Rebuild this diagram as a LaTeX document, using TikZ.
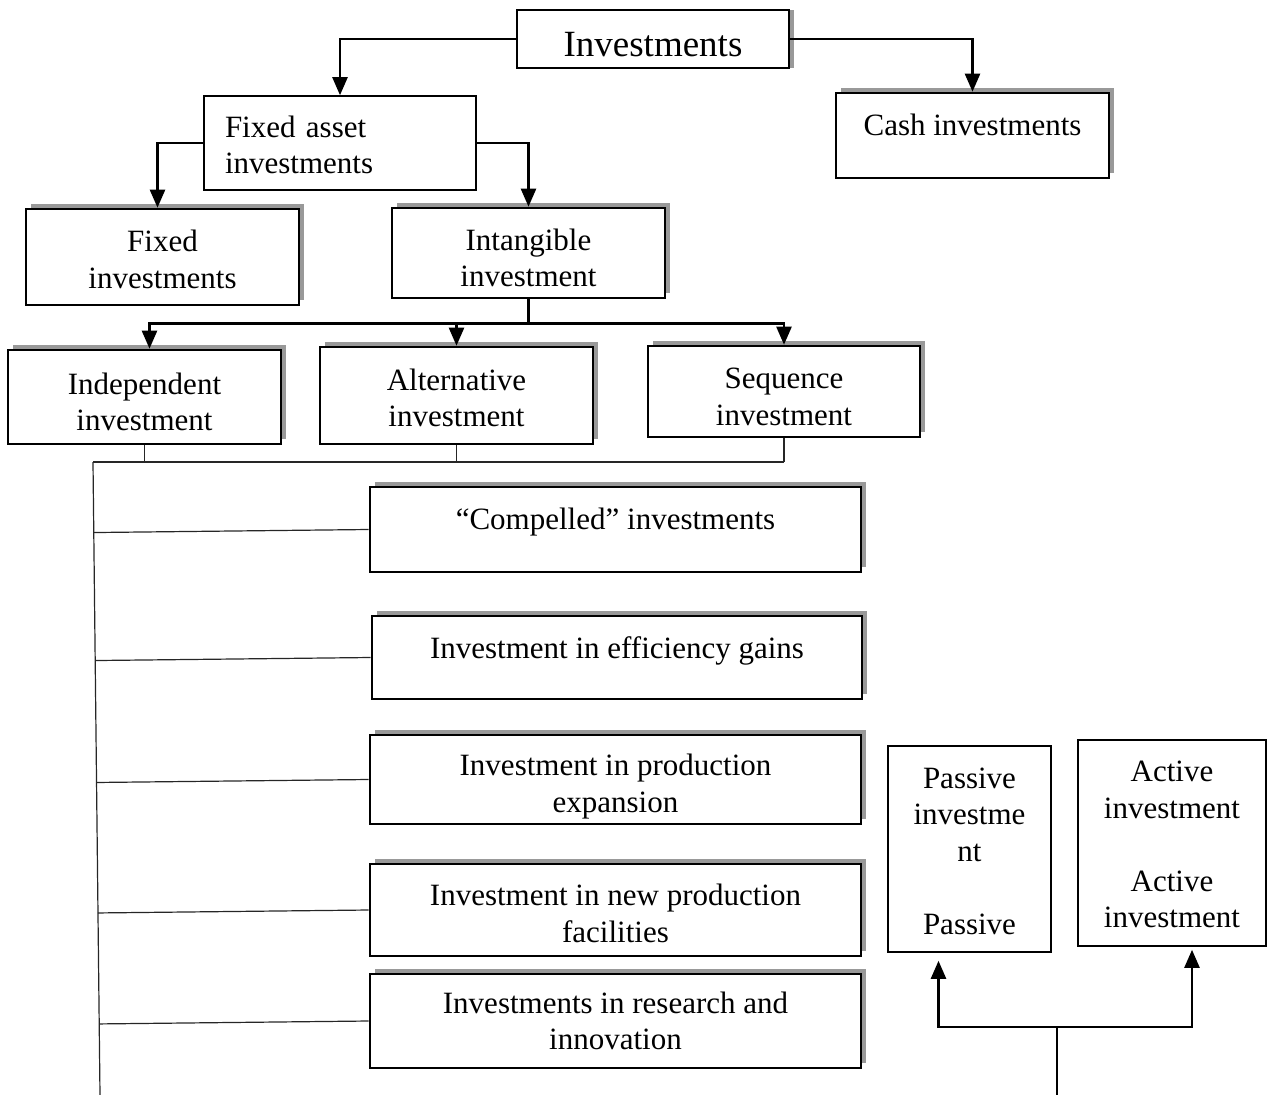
\documentclass[tikz,border=0pt]{standalone}
\usepackage{fontspec}
\setmainfont{Liberation Serif}
\usepackage{tikz}
\usetikzlibrary{arrows.meta,calc,shadows}

\newcommand{\tallline}[1]{\rule{0pt}{#1}}

\tikzset{
  box/.style={draw, line width=2.6pt, fill=white, align=center,
    drop shadow={shadow xshift=5pt, shadow yshift=5pt, fill=gray!80, opacity=1}},
  topbox/.style={draw, line width=2.6pt, fill=white, align=center,
    drop shadow={shadow xshift=5pt, shadow yshift=0pt, fill=gray!80, opacity=1}},
  plainbox/.style={draw, line width=1.6pt, fill=white, align=center},
  arr/.style={line width=2.4pt, -{Triangle[length=18pt,width=15pt]}},
  thinline/.style={line width=1.2pt, black!85}
}

\begin{document}
\begin{tikzpicture}[x=1pt,y=-1pt, font=\fontsize{31}{36.5}\selectfont]
  \useasboundingbox (0,0) rectangle (1272,1095);

  \node[topbox, minimum width=272pt, minimum height=58pt, font=\fontsize{37}{42}\selectfont, text height=36pt] (inv) at (653,39) {Investments};
  \node[plainbox, text width=230pt, inner xsep=21pt, minimum height=94pt, align=left] (fa) at (340,143) {\tallline{25pt}Fixed asset\\investments};
  \node[box, minimum width=273pt, minimum height=85pt, text depth=21pt] (cash) at (972.5,135.5) {Cash investments};

  \node[box, minimum width=273pt, minimum height=96pt] (fix) at (162.5,257) {\tallline{26pt}Fixed\\investments};
  \node[box, minimum width=273pt, minimum height=90pt] (intg) at (528.5,253) {\tallline{31pt}Intangible\\investment};

  \node[box, minimum width=273pt, minimum height=94pt] (indep) at (144.5,397) {\tallline{31pt}Independent\\investment};
  \node[box, minimum width=273pt, minimum height=97pt] (alt) at (456.5,395.5) {\tallline{26pt}Alternative\\investment};
  \node[box, minimum width=272pt, minimum height=91pt] (seq) at (784,391.5) {\tallline{31pt}Sequence\\investment};

  \node[box, minimum width=491pt, minimum height=85pt, text depth=21pt] (comp) at (615.5,529.5) {“Compelled” investments};
  \node[box, minimum width=490pt, minimum height=83pt, text depth=19pt] (eff) at (617,657.5) {Investment in efficiency gains};
  \node[box, minimum width=491pt, minimum height=89pt] (expn) at (615.5,779.5) {\tallline{36pt}Investment in production\\expansion};
  \node[box, minimum width=491pt, minimum height=92pt] (newf) at (615.5,910) {\tallline{28pt}Investment in new production\\facilities};
  \node[box, minimum width=491pt, minimum height=94pt] (rsch) at (615.5,1021) {Investments in research and\\innovation};

  \node[plainbox, minimum width=163pt, minimum height=206pt] (pas) at (969.5,849) {\tallline{25pt}Passive\\investme\\nt\\[36.5pt]Passive};
  \node[plainbox, minimum width=188pt, minimum height=206pt] (act) at (1172,843) {\tallline{24pt}Active\\investment\\[36.5pt]Active\\investment};

  \draw[arr] (inv.west) -| (fa.north);
  \draw[arr] (inv.east) -| (cash.north);
  \draw[arr] (fa.west) -| ([xshift=-5pt]fix.north);
  \draw[arr] (fa.east) -| (intg.north);

  \draw[line width=2.4pt] (intg.south) -- ++(0,24) coordinate (split);
  \draw[arr] (split) -| ([xshift=5pt]indep.north);
  \draw[arr] (split) -| (alt.north);
  \draw[arr] (split) -| (seq.north);

  \coordinate (bustop) at (93,462);
  \coordinate (busbot) at (100,1095);
  \draw[thinline] (indep.south) -- (indep.south |- bustop);
  \draw[thinline] (alt.south) -- (alt.south |- bustop);
  \draw[thinline] (seq.south) -- (seq.south |- bustop);
  \draw[thinline] (bustop) -- (seq.south |- bustop);
  \draw[thinline] (bustop) -- (busbot);
  \foreach \n in {comp,eff,expn,newf,rsch}
    \draw[thinline] ($(bustop)!(\n.west)!(busbot)$) -- (\n.west);

  \coordinate (root) at (1057,1095);
  \coordinate (fork) at (1057,1027);
  \draw[arr, shorten >=8pt] (root) -- (fork) -| ([xshift=-31pt]pas.south);
  \draw[arr, shorten >=3pt] (fork) -| ([xshift=20pt]act.south);
\end{tikzpicture}
\end{document}
